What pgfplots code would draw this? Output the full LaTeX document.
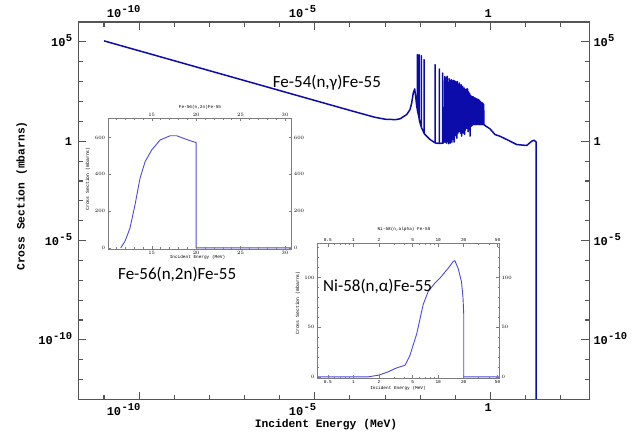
\documentclass[border=0pt]{standalone}
\usepackage{fontspec}
\setmainfont{Liberation Mono}
\newfontfamily\annfont{Carlito}
\usepackage{pgfplots}
\pgfplotsset{compat=1.18}

\definecolor{curve}{RGB}{12,12,170}
\definecolor{icurve}{RGB}{75,75,215}
\definecolor{axgray}{RGB}{85,85,85}
\definecolor{iaxgray}{RGB}{125,125,125}

\newcommand{\pw}[1]{10\kern0.3pt\raisebox{0.42em}{\fontsize{10.5}{10.5}\selectfont #1}}

\begin{document}
\begin{tikzpicture}[x=1pt,y=1pt]
\path[use as bounding box] (0,0) rectangle (643,437);

% ---------- main axis (labels bottom/left) ----------
\begin{axis}[
    at={(78.3pt,37.5pt)}, anchor=south west, scale only axis,
    width=511pt, height=377.5pt,
    xmode=log, ymode=log, xmin=1.86e-12, xmax=648, ymin=1e-13, ymax=1e6,
    tick align=inside,
    xtick={1e-10,1e-5,1}, xticklabels={\pw{-10},\pw{-5},1},
    ytick={1e-10,1e-5,1,1e5}, yticklabels={\pw{-10},\pw{-5},1,\pw{5}},
    minor xtick={1e-11,1e-9,1e-8,1e-7,1e-6,1e-4,1e-3,1e-2,1e-1,10,100},
    minor ytick={1e-12,1e-11,1e-9,1e-8,1e-7,1e-6,1e-4,1e-3,1e-2,1e-1,10,100,1e3,1e4},
    major tick length=8pt, minor tick length=4.5pt,
    axis line style={axgray, line width=1.2pt},
    tick style={axgray, line width=1.1pt},
    ticklabel style={font=\fontsize{12}{12}\selectfont\bfseries, inner sep=0pt},
    xticklabel style={anchor=north east, xshift=1.5pt, yshift=-3.5pt},
    yticklabel style={anchor=base east, xshift=-6pt, yshift=-4.5pt}]
\addplot[draw=curve, line width=1.5pt, line join=round] coordinates {
(1e-11,112500)(1e-10,35580)(1e-9,11250)(1e-8,3558)(1e-7,1125)(1e-6,355.8)
(1e-5,112.5)(1e-4,35.6)(5e-4,16.2)(1e-3,12.8)(2e-3,12.2)(2.66e-3,13.4)
(4.12e-3,22)(5.12e-3,39)(5.72e-3,85)(6.35e-3,270)(6.96e-3,430)(7.5e-3,150)
(7.94e-3,57)
(8.26e-3,40)(8.26e-3,22800)(8.28e-3,38)
(9.23e-3,15)(9.23e-3,22800)(9.25e-3,14)
(9.86e-3,8.4)
(1.074e-2,5.2)(1.074e-2,20300)(1.076e-2,5.0)
(1.282e-2,2.6)(1.282e-2,12700)(1.285e-2,2.5)
(1.368e-2,2.17)(1.897e-2,1.22)
(2.636e-2,0.83)(2.636e-2,7100)(2.641e-2,0.82)
(3.49e-2,0.77)(3.49e-2,4300)(3.497e-2,0.77)
(4.36e-2,0.8)(4.36e-2,2700)(4.37e-2,0.8)
(4.8e-2,0.9)
(0.050,1800)(0.052,0.9)(0.054,1500)(0.056,0.8)(0.058,1860)(0.060,1.0)
(0.062,900)(0.064,0.75)(0.066,1400)(0.068,1.1)(0.070,1200)(0.072,0.8)
(0.074,700)(0.076,1.3)(0.078,1250)(0.080,0.9)(0.082,1100)(0.084,1.5)
(0.086,600)(0.088,1.2)(0.090,1150)(0.092,0.9)(0.094,800)(0.096,1.6)
(0.098,1050)
(0.102,2.0)(0.106,950)(0.110,1.4)(0.114,1000)(0.118,2.5)(0.122,700)
(0.126,3.0)(0.130,850)(0.134,3.9)(0.138,500)(0.142,2.5)(0.146,700)
(0.150,1.8)(0.154,560)(0.158,3.5)(0.162,575)(0.166,2.6)(0.170,420)
(0.174,3.0)(0.178,480)(0.182,2.2)(0.186,390)(0.190,3.5)(0.194,400)
(0.198,4.2)
(0.206,420)(0.214,4.5)(0.222,430)(0.230,3.0)(0.238,300)(0.246,5.0)
(0.254,250)(0.262,1.8)(0.270,200)(0.278,5.5)(0.286,182)(0.294,6.0)
(0.302,170)(0.310,6.5)(0.318,175)(0.326,6.9)(0.334,160)(0.342,6.9)
(0.350,150)(0.358,6.9)(0.366,151)(0.374,6.9)(0.382,140)(0.390,6.9)
(0.398,135)
(0.413,6.9)(0.428,130)(0.443,6.9)(0.458,126)(0.473,6.9)(0.488,110)
(0.503,6.9)(0.518,100)(0.533,6.9)(0.548,90)(0.563,6.9)(0.578,85)
(0.593,6.9)(0.608,80)(0.623,6.9)(0.638,72)(0.653,6.9)
(0.697,6.15)(0.968,4.2)(1.34,2.17)(1.86,1.78)(2.89,1.22)(5.57,0.68)
(10.7,0.61)(14.9,1.0)(17.3,1.12)(19.5,0.95)(20,0.9)(20,1e-20)
};
\end{axis}

% ---------- main axis overlay (labels top/right) ----------
\begin{axis}[
    at={(78.3pt,37.5pt)}, anchor=south west, scale only axis,
    width=511pt, height=377.5pt,
    xmode=log, ymode=log, xmin=1.86e-12, xmax=648, ymin=1e-13, ymax=1e6,
    tick align=inside,
    xtick={1e-10,1e-5,1}, xticklabels={\pw{-10},\pw{-5},1},
    ytick={1e-10,1e-5,1,1e5}, yticklabels={\pw{-10},\pw{-5},1,\pw{5}},
    minor xtick={1e-11,1e-9,1e-8,1e-7,1e-6,1e-4,1e-3,1e-2,1e-1,10,100},
    minor ytick={1e-12,1e-11,1e-9,1e-8,1e-7,1e-6,1e-4,1e-3,1e-2,1e-1,10,100,1e3,1e4},
    major tick length=8pt, minor tick length=4.5pt,
    axis line style={axgray, line width=1.2pt},
    tick style={axgray, line width=1.1pt},
    ticklabel style={font=\fontsize{12}{12}\selectfont\bfseries, inner sep=0pt},
    xticklabel pos=upper, yticklabel pos=right,
    xticklabel style={anchor=south east, xshift=1.5pt, yshift=4pt},
    yticklabel style={anchor=base west, xshift=4pt, yshift=-4.5pt}]
\addplot[draw=none] coordinates {(1e-11,1)};
\end{axis}

% ---------- inset 1: Fe-56(n,2n) ----------
\begin{axis}[
    at={(108.3pt,188pt)}, anchor=south west, scale only axis,
    width=183.4pt, height=130.7pt,
    xmin=10.11, xmax=30.75, ymin=-6, ymax=705,
    tick align=inside,
    xtick={15,20,25,30},
    minor xtick={11,12,13,14,16,17,18,19,21,22,23,24,26,27,28,29},
    ytick={0,200,400,600},
    major tick length=3pt, minor tick length=1.6pt,
    axis line style={iaxgray, line width=0.5pt},
    tick style={iaxgray, line width=0.5pt},
    ticklabel style={font=\fontsize{4.4}{5}\selectfont, inner sep=0pt},
    xticklabel style={anchor=north, yshift=-2pt},
    yticklabel style={anchor=east, xshift=-3pt}]
\addplot[draw=icurve, line width=0.9pt, line join=round] coordinates {
(11.5,0)(11.99,36)(12.55,108)(13.12,235)(13.68,379)(14.25,469)(15.0,533)
(15.94,587)(17.07,610)(17.82,610)(18.57,596)(19.32,583)(20.0,573)(20.0,0)(30.75,0)
};
\end{axis}
\begin{axis}[
    at={(108.3pt,188pt)}, anchor=south west, scale only axis,
    width=183.4pt, height=130.7pt,
    xmin=10.11, xmax=30.75, ymin=-6, ymax=705,
    tick align=inside,
    xtick={15,20,25,30},
    minor xtick={11,12,13,14,16,17,18,19,21,22,23,24,26,27,28,29},
    ytick={0,200,400,600},
    major tick length=3pt, minor tick length=1.6pt,
    axis line style={iaxgray, line width=0.5pt},
    tick style={iaxgray, line width=0.5pt},
    ticklabel style={font=\fontsize{4.4}{5}\selectfont, inner sep=0pt},
    xticklabel pos=upper, yticklabel pos=right,
    xticklabel style={anchor=south, yshift=1.5pt},
    yticklabel style={anchor=west, xshift=2pt}]
\addplot[draw=none] coordinates {(15,0)};
\end{axis}

% ---------- inset 2: Ni-58(n,alpha) ----------
\begin{axis}[
    at={(317.7pt,58.7pt)}, anchor=south west, scale only axis,
    width=181.6pt, height=134.6pt,
    xmode=log, xmin=0.38, xmax=52.5, ymin=-1.5, ymax=134,
    tick align=inside,
    xtick={0.5,1,2,5,10,20,50}, xticklabels={0.5,1,2,5,10,20,50},
    minor xtick={0.6,0.7,0.8,0.9,3,4,6,7,8,9,30,40},
    ytick={0,50,100}, minor ytick={10,20,30,40,60,70,80,90,110,120,130},
    major tick length=3pt, minor tick length=1.6pt,
    axis line style={iaxgray, line width=0.5pt},
    tick style={iaxgray, line width=0.5pt},
    ticklabel style={font=\fontsize{4.4}{5}\selectfont, inner sep=0pt},
    xticklabel style={anchor=north, yshift=-2pt},
    yticklabel style={anchor=east, xshift=-3pt}]
\addplot[draw=icurve, line width=0.9pt, line join=round] coordinates {
(0.38,0)(1.5,0)(1.97,1.6)(2.58,5)(3.09,8.3)(3.54,10)(4.06,11.6)(4.64,21.5)
(5.57,43)(6.66,72.9)(7.63,86)(9.15,94.4)(10.5,99.4)(13.1,109.3)(15.0,116)
(15.7,117)(17.2,109)(18.8,96)(19.6,80)(20,63)(20,0)(52.5,0)
};
\end{axis}
\begin{axis}[
    at={(317.7pt,58.7pt)}, anchor=south west, scale only axis,
    width=181.6pt, height=134.6pt,
    xmode=log, xmin=0.38, xmax=52.5, ymin=-1.5, ymax=134,
    tick align=inside,
    xtick={0.5,1,2,5,10,20,50}, xticklabels={0.5,1,2,5,10,20,50},
    minor xtick={0.6,0.7,0.8,0.9,3,4,6,7,8,9,30,40},
    ytick={0,50,100}, minor ytick={10,20,30,40,60,70,80,90,110,120,130},
    major tick length=3pt, minor tick length=1.6pt,
    axis line style={iaxgray, line width=0.5pt},
    tick style={iaxgray, line width=0.5pt},
    ticklabel style={font=\fontsize{4.4}{5}\selectfont, inner sep=0pt},
    xticklabel pos=upper, yticklabel pos=right,
    xticklabel style={anchor=south, yshift=2pt},
    yticklabel style={anchor=west, xshift=2pt}]
\addplot[draw=none] coordinates {(1,0)};
\end{axis}

% ---------- labels ----------
\node[font=\fontsize{11.3}{12}\selectfont\bfseries] at (326,12) {Incident Energy (MeV)};
\node[font=\fontsize{11.3}{12}\selectfont\bfseries, rotate=90] at (21.7,241) {Cross Section (mbarns)};

\node[font=\fontsize{4.4}{5}\selectfont] at (200,329.7) {Fe-56(n,2n)Fe-55};
\node[font=\fontsize{4.4}{5}\selectfont] at (197.5,179.3) {Incident Energy (MeV)};
\node[font=\fontsize{4.8}{5}\selectfont, rotate=90] at (88,258) {Cross Section (mbarns)};

\node[font=\fontsize{4.4}{5}\selectfont] at (404,207.7) {Ni-58(n,alpha) Fe-55};
\node[font=\fontsize{4.4}{5}\selectfont] at (398,48.7) {Incident Energy (MeV)};
\node[font=\fontsize{4.8}{5}\selectfont, rotate=90] at (298,134) {Cross Section (mbarns)};

\node[font=\annfont\fontsize{17}{20}\selectfont, anchor=west, inner sep=0pt] at (272.7,354.5) {Fe-54(n,γ)Fe-55};
\node[font=\annfont\fontsize{17}{20}\selectfont, anchor=west, inner sep=0pt] at (118,163) {Fe-56(n,2n)Fe-55};
\node[font=\annfont\fontsize{17}{20}\selectfont, anchor=west, inner sep=0pt] at (323,151) {Ni-58(n,α)Fe-55};
\end{tikzpicture}
\end{document}
